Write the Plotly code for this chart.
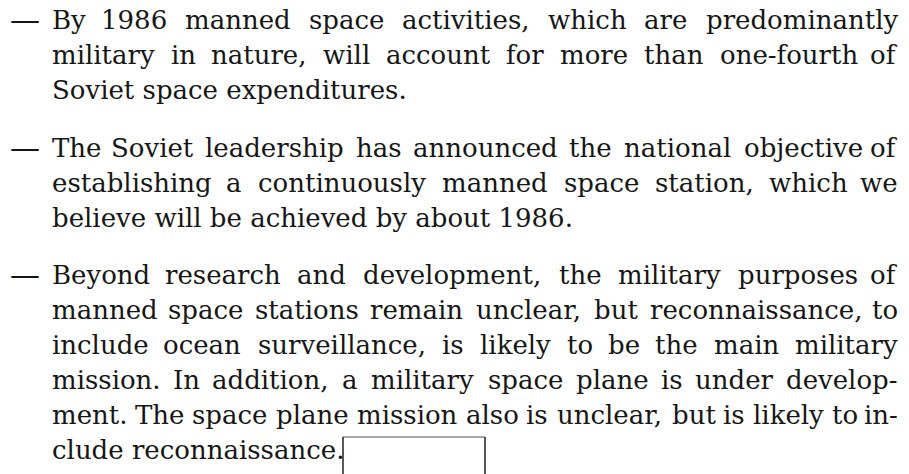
import plotly.graph_objects as go

# text of the three bullet paragraphs, one entry per printed line
para_1 = [
    "By 1986 manned space activities, which are predominantly",
    "military in nature, will account for more than one-fourth of",
    "Soviet space expenditures.",
]
para_2 = [
    "The Soviet leadership has announced the national objective of",
    "establishing a continuously manned space station, which we",
    "believe will be achieved by about 1986.",
]
para_3 = [
    "Beyond research and development, the military purposes of",
    "manned space stations remain unclear, but reconnaissance, to",
    "include ocean surveillance, is likely to be the main military",
    "mission. In addition, a military space plane is under develop-",
    "ment. The space plane mission also is unclear, but is likely to in-",
    "clude reconnaissance.",
]
paragraphs = [para_1, para_2, para_3]
bullet = "\u2014"

# page layout (pixels); axes run 0..W and 0..H so data units are pixels
W, H = 909, 474
LEFT, RIGHT = 50, 900
FONT = "DejaVu Serif"
SIZE = 26
INK = "#161616"
baselines = [29, 64, 99, 157, 192, 227, 284, 319, 354, 389, 424, 459]

# rough advance widths of DejaVu Serif (units per em = 2048)
ADV = {
    " ": 651, "a": 1221, "b": 1313, "c": 1145, "d": 1313, "e": 1210, "f": 760,
    "g": 1313, "h": 1318, "i": 655, "j": 655, "k": 1255, "l": 655, "m": 1980,
    "n": 1318, "o": 1233, "p": 1313, "q": 1313, "r": 979, "s": 1051, "t": 821,
    "u": 1318, "v": 1212, "w": 1740, "x": 1212, "y": 1212, "z": 1096,
    "B": 1400, "I": 755, "S": 1317, "T": 1380, ",": 651, ".": 651, "-": 692,
}


def word_width(word):
    return 1.015 * sum(ADV.get(ch, 1303) for ch in word) / 2048 * SIZE


def text_ann(x, y, txt, anchor="left", size=SIZE, height=None):
    return dict(
        x=x, y=y, text=txt, xref="x", yref="y", showarrow=False,
        xanchor=anchor, yanchor="middle", height=height,
        font=dict(family=FONT, size=size, color=INK),
    )


annotations = []
row = 0
for para in paragraphs:
    for k, line in enumerate(para):
        base = baselines[row]
        ymid = base - 0.346 * SIZE
        if k == 0:
            annotations.append(text_ann(8, base - 10, bullet, size=30, height=22))
        if k == len(para) - 1:
            annotations.append(text_ann(LEFT, ymid, line))
        else:
            # justified line: spread the words over the full measure
            words = line.split()
            widths = [word_width(w) for w in words]
            gap = (RIGHT - LEFT - sum(widths)) / (len(words) - 1)
            cursor = LEFT
            for i, (w, ww) in enumerate(zip(words, widths)):
                if i == 0:
                    annotations.append(text_ann(LEFT, ymid, w, "left"))
                elif i == len(words) - 1:
                    annotations.append(text_ann(RIGHT, ymid, w, "right"))
                else:
                    annotations.append(text_ann(cursor + ww / 2, ymid, w, "center"))
                cursor += ww + gap
        row += 1

fig = go.Figure()

# open box drawn below the last line
box_x0, box_x1, box_top = 343, 485, 437
fig.add_shape(type="line", x0=box_x0, x1=box_x1, y0=box_top, y1=box_top,
              line=dict(color="#555555", width=1))
fig.add_shape(type="line", x0=box_x0, x1=box_x0, y0=box_top, y1=H,
              line=dict(color="#222222", width=1.5))
fig.add_shape(type="line", x0=box_x1, x1=box_x1, y0=box_top, y1=H,
              line=dict(color="#222222", width=1.5))

fig.update_layout(
    width=W, height=H,
    margin=dict(l=0, r=0, t=0, b=0),
    paper_bgcolor="white", plot_bgcolor="white",
    annotations=annotations,
    showlegend=False,
)
fig.update_xaxes(range=[0, W], visible=False, fixedrange=True)
fig.update_yaxes(range=[H, 0], visible=False, fixedrange=True)

# drop the browser's default 8px body margin so the figure fills the window
fig.write_html("out.html",
               config={"displayModeBar": False},
               post_script="document.body.style.margin = '0';")
